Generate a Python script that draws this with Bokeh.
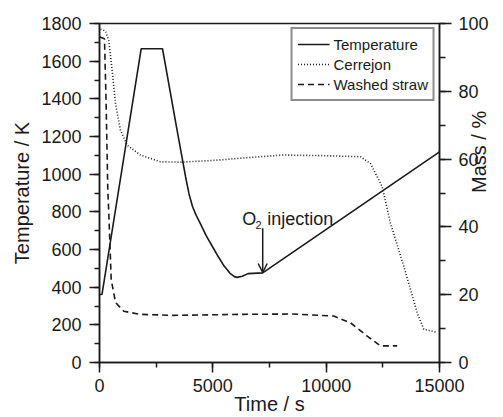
import math
from bokeh.plotting import figure
from bokeh.models import (Range1d, LinearAxis, SingleIntervalTicker, Legend,
                          LegendItem, Arrow, OpenHead, Label)
from bokeh.embed import file_html
from bokeh.resources import INLINE

# ---------------- data ----------------
temp_time = [0, 110, 200, 1840, 2780, 3400, 3800, 3950, 4100, 4250, 4450, 4700, 5000, 5250,
             5500, 5750, 5950, 6070, 6300, 6550, 7200, 15000]
temp_K = [360, 362, 430, 1666, 1666, 1249, 985, 895, 830, 785, 737, 675, 612, 560,
          512, 475, 456, 452, 458, 472, 476, 1118]

cer_time = [44, 265, 410, 560, 706, 926, 1221, 1808, 2690, 3573, 5000, 6660, 8130, 10000,
            11513, 11954, 12250, 12470, 12836, 13425, 14014, 14307, 14821]
cer_mass = [98.3, 97.8, 94.9, 86.1, 76.3, 68.5, 64.1, 61.2, 59.2, 59.1, 59.6, 60.5, 61.2, 61.0,
            60.7, 58.7, 54.8, 51.9, 41.1, 28.4, 14.7, 9.8, 9.0]

straw_time = [10, 220, 290, 366, 410, 516, 706, 1072, 1808, 3277, 6220, 8500, 10335, 11072,
              11808, 12395, 13132]
straw_mass = [96.0, 95.5, 77.0, 50.9, 44.1, 24.5, 17.7, 15.1, 14.2, 13.9, 14.2, 14.3, 13.7, 11.7,
              7.8, 4.9, 4.9]

series_names = ["Temperature", "Cerrejon", "Washed straw"]

# annotation (O2 injection arrow)
arrow_time = 7200
arrow_from_K = 713
arrow_to_K = 478
o_text_time, o_text_K = 6295, 761
sub_text_time, sub_text_K = 6881, 731
inj_text_time = 7397

FONT = "Liberation Sans"
INK = "#1a1a1a"

p = figure(width=503, height=417, output_backend="svg", toolbar_location=None,
           x_range=Range1d(0, 15000), y_range=Range1d(0, 1800),
           min_border_left=99, min_border_right=64, min_border_top=23, min_border_bottom=54)
p.extra_y_ranges = {"mass": Range1d(0, 100)}
p.grid.visible = False
p.outline_line_color = INK
p.outline_line_width = 1.5
p.background_fill_color = "white"
p.border_fill_color = "white"

def style_axis(ax, interval, major_len, minor_len):
    ax.ticker = SingleIntervalTicker(interval=interval, num_minor_ticks=2)
    ax.axis_line_color = INK
    ax.axis_line_width = 1.5
    ax.major_tick_line_color = INK
    ax.major_tick_line_width = 1.5
    ax.minor_tick_line_color = INK
    ax.minor_tick_line_width = 1.5
    ax.major_tick_out = major_len
    ax.major_tick_in = 0
    ax.minor_tick_out = minor_len
    ax.minor_tick_in = 0
    ax.major_label_text_font = FONT
    ax.major_label_text_font_size = "18px"
    ax.major_label_text_color = INK
    ax.axis_label_text_font = FONT
    ax.axis_label_text_font_size = "20px"
    ax.axis_label_text_font_style = "normal"
    ax.axis_label_text_color = INK

xa = p.xaxis[0]
style_axis(xa, 5000, 10, 5)
xa.axis_label = "Time / s"
xa.major_label_standoff = 6
xa.axis_label_standoff = -2

ya = p.yaxis[0]
style_axis(ya, 200, 10, 5)
ya.axis_label = "Temperature / K"
ya.major_label_standoff = 8
ya.axis_label_standoff = 5

ra = LinearAxis(y_range_name="mass", axis_label="Mass / %")
style_axis(ra, 20, 12, 6)
ra.major_label_standoff = 7
ra.axis_label_standoff = -13
ra.axis_label_orientation = math.pi / 2
p.add_layout(ra, "right")

r_temp = p.line(temp_time, temp_K, line_color=INK, line_width=1.6)
r_cer = p.line(cer_time, cer_mass, y_range_name="mass", line_color=INK, line_width=1.6,
               line_dash="1 2")
r_straw = p.line(straw_time, straw_mass, y_range_name="mass", line_color=INK, line_width=1.6,
                 line_dash="6 4")

legend = Legend(items=[LegendItem(label=series_names[0], renderers=[r_temp]),
                       LegendItem(label=series_names[1], renderers=[r_cer]),
                       LegendItem(label=series_names[2], renderers=[r_straw])],
                location="top_right")
legend.margin = 4
legend.padding = 5
legend.spacing = 0
legend.label_height = 20
legend.glyph_height = 20
legend.glyph_width = 32
legend.label_standoff = 4
legend.label_text_font = FONT
legend.label_text_font_size = "15px"
legend.label_text_color = INK
legend.border_line_color = INK
legend.border_line_width = 2
legend.background_fill_alpha = 1
p.add_layout(legend)

p.add_layout(Arrow(end=OpenHead(size=9, line_width=1.5, line_color=INK),
                   x_start=arrow_time, y_start=arrow_from_K,
                   x_end=arrow_time, y_end=arrow_to_K,
                   line_width=1.5, line_color=INK))

p.add_layout(Label(x=o_text_time, y=o_text_K, text="O", text_font=FONT,
                   text_font_size="18px", text_color=INK, text_baseline="alphabetic"))
p.add_layout(Label(x=sub_text_time, y=sub_text_K, text="2", text_font=FONT,
                   text_font_size="11px", text_color=INK, text_baseline="alphabetic"))
p.add_layout(Label(x=inj_text_time, y=o_text_K, text="injection", text_font=FONT,
                   text_font_size="18px", text_color=INK, text_baseline="alphabetic"))

open("out.html", "w").write(file_html(p, INLINE))
